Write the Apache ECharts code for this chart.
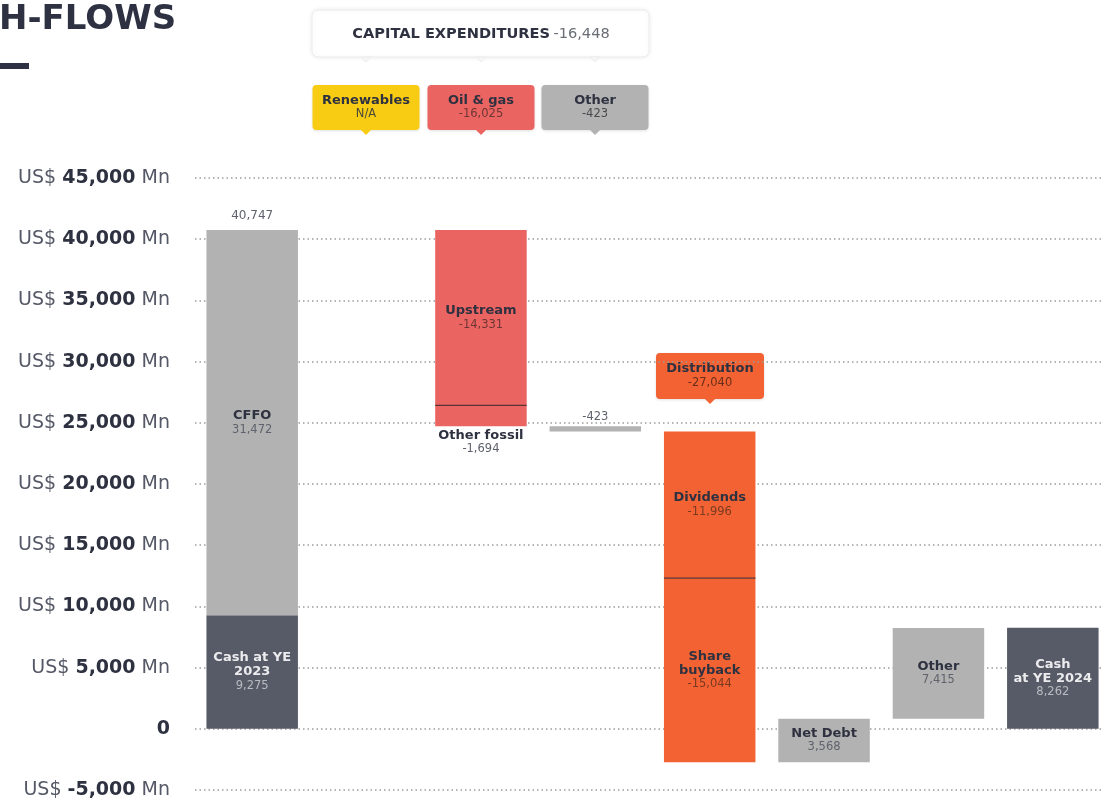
<!DOCTYPE html>
<html>
<head>
<meta charset="utf-8">
<script src="https://cdn.jsdelivr.net/npm/echarts@6/dist/echarts.min.js"></script>
<style>html,body{margin:0;padding:0;background:#fff;}#c{width:1103px;height:802px;}</style>
</head>
<body>
<div id="c"></div>
<script>
// ---- data ----
const categories = ['Cash at YE 2023 + CFFO', 'Renewables', 'Oil & gas', 'Other capex', 'Distribution', 'Net Debt', 'Other', 'Cash at YE 2024'];
const segNames = ['Cash at YE\n2023', 'CFFO', 'Upstream', 'Other fossil', 'Other', 'Dividends', 'Share\nbuyback', 'Net Debt', 'Other', 'Cash\nat YE 2024'];
const segValues = [9275, 31472, -14331, -1694, -423, -11996, -15044, 3568, 7415, 8262];
const segCategory = [0, 0, 2, 2, 3, 4, 4, 5, 6, 7];
const segIsTotal = [true, false, false, false, false, false, false, false, false, true];
const yTicks = [-5000, 0, 5000, 10000, 15000, 20000, 25000, 30000, 35000, 40000, 45000];
const capexTotal = -16448;
const capexParts = [['Renewables', 'N/A'], ['Oil & gas', -16025], ['Other', -423]];
const distributionTotal = -27040;

// ---- helpers ----
const fmt = v => (typeof v === 'number') ? v.toLocaleString('en-US') : v;
const FONT = 'DejaVu Sans';
const DARK = '#2e3140';
const SOFT = '#5f626c';
const colorOf = {
  'Cash at YE\n2023': '#575b67', 'CFFO': '#b2b2b2', 'Upstream': '#ea6461', 'Other fossil': '#ea6461',
  'Other': '#b2b2b2', 'Dividends': '#f26233', 'Share\nbuyback': '#f26233', 'Net Debt': '#b2b2b2',
  'Cash\nat YE 2024': '#575b67'
};
const valColorOf = {
  'Upstream': '#6e3634', 'Other fossil': SOFT, 'Dividends': '#7a3a22', 'Share\nbuyback': '#7a3a22'
};

// build waterfall segments
const segData = [];
let running = 0;
segValues.forEach((v, i) => {
  const start = segIsTotal[i] && i > 0 ? 0 : running;
  const end = start + v;
  running = end;
  segData.push([segCategory[i], Math.min(start, end), Math.max(start, end), i, start, end]);
});

function renderItem(params, api) {
  const cat = api.value(0), lo = api.value(1), hi = api.value(2), i = api.value(3);
  const start = api.value(4), end = api.value(5);
  const pHi = api.coord([cat, hi]);
  const pLo = api.coord([cat, lo]);
  const w = api.size([1, 0])[0] * 0.8;
  const x = pHi[0] - w / 2;
  const name = segNames[i];
  const isDarkBar = name.indexOf('Cash') === 0;
  const children = [{
    type: 'rect',
    shape: { x: x, y: pHi[1], width: w, height: Math.max(pLo[1] - pHi[1], 1) },
    style: { fill: colorOf[name] }
  }];
  if (i > 0 && segCategory[i - 1] === cat && colorOf[segNames[i - 1]] === colorOf[name]) {
    const py = api.coord([cat, start])[1];
    children.push({ type: 'line', shape: { x1: x, y1: py, x2: x + w, y2: py }, style: { stroke: '#5a3434', lineWidth: 1.2 } });
  }
  const rich = {
    b: { fontFamily: FONT, fontWeight: 'bold', fontSize: 13, lineHeight: 14, fill: isDarkBar ? '#ececef' : DARK, align: 'center' },
    v: { fontFamily: FONT, fontSize: 11.5, lineHeight: 14, fill: isDarkBar ? '#b9bbc2' : (valColorOf[name] || SOFT), align: 'center' }
  };
  const cx = pHi[0];
  const labelText = name.split('\n').map(s => '{b|' + s + '}').join('\n') + '\n{v|' + fmt(segValues[i]) + '}';
  if (cat === 3) {
    children.push({ type: 'text', style: { text: fmt(segValues[i]), x: cx, y: pHi[1] - 3, align: 'center', verticalAlign: 'bottom', fontFamily: FONT, fontSize: 11.5, fill: SOFT } });
  } else if (name === 'Other fossil') {
    children.push({ type: 'text', style: { text: labelText, rich: rich, x: cx, y: pLo[1] + 2, align: 'center', verticalAlign: 'top' } });
  } else {
    children.push({ type: 'text', style: { text: labelText, rich: rich, x: cx, y: (pHi[1] + pLo[1]) / 2, align: 'center', verticalAlign: 'middle' } });
  }
  if (cat === 0 && !segIsTotal[i]) {
    children.push({ type: 'text', style: { text: fmt(end), x: cx, y: pHi[1] - 8, align: 'center', verticalAlign: 'bottom', fontFamily: FONT, fontSize: 12, fill: SOFT } });
  }
  return { type: 'group', children: children };
}

function callout(cx, top, w, h, fill, title, value, valColor) {
  return {
    type: 'group',
    children: [
      { type: 'rect', shape: { x: cx - w / 2, y: top, width: w, height: h, r: 4 }, style: { fill: fill, shadowBlur: 3, shadowColor: 'rgba(0,0,0,0.12)', shadowOffsetY: 1 } },
      { type: 'polygon', shape: { points: [[cx - 5, top + h], [cx + 5, top + h], [cx, top + h + 5]] }, style: { fill: fill } },
      { type: 'text', style: { text: '{b|' + title + '}\n{v|' + value + '}', x: cx, y: top + h / 2, align: 'center', verticalAlign: 'middle',
        rich: { b: { fontFamily: FONT, fontWeight: 'bold', fontSize: 13, lineHeight: 14, fill: DARK, align: 'center' },
                v: { fontFamily: FONT, fontSize: 11.5, lineHeight: 14, fill: valColor, align: 'center' } } } }
    ]
  };
}

const chart = echarts.init(document.getElementById('c'), null, { renderer: 'canvas' });
const capexColors = ['#f8cc12', '#ea6461', '#b2b2b2'];
const capexCx = [366, 481, 595];
const graphics = [
  { type: 'text', style: { text: 'H-FLOWS', x: -1, y: 3, fontFamily: FONT, fontWeight: 'bold', fontSize: 34, fill: '#2d3142' } },
  { type: 'rect', shape: { x: 0, y: 63, width: 29, height: 6 }, style: { fill: '#2d3142' } },
  { type: 'rect', shape: { x: 312, y: 10, width: 337, height: 47, r: 6 }, style: { fill: '#fff', stroke: '#ececec', lineWidth: 1, shadowBlur: 5, shadowColor: 'rgba(0,0,0,0.08)' } },
  { type: 'text', style: { text: '{b|CAPITAL EXPENDITURES} {v|' + fmt(capexTotal) + '}', x: 481, y: 34, align: 'center', verticalAlign: 'middle',
      rich: { b: { fontFamily: FONT, fontWeight: 'bold', fontSize: 14.6, fill: DARK }, v: { fontFamily: FONT, fontSize: 14.6, fill: '#6a6d76' } } } }
];
capexCx.forEach(cx => graphics.push({ type: 'polygon', shape: { points: [[cx - 5, 57], [cx + 5, 57], [cx, 62]] }, style: { fill: '#f6f6f6', stroke: '#ececec' } }));
capexParts.forEach((p, k) => graphics.push(callout(capexCx[k], 85, 107, 45, capexColors[k], p[0], fmt(p[1]), k === 0 ? '#4a4a3a' : (k === 1 ? '#6e3634' : '#4a4a4e'))));
graphics.push(callout(710, 353, 108, 46, '#f26233', 'Distribution', fmt(distributionTotal), '#6a2e18'));

chart.setOption({
  animation: false,
  backgroundColor: '#ffffff',
  grid: { left: 195, width: 915, top: 178, bottom: 12, containLabel: false, outerBoundsMode: 'none' },
  xAxis: {
    type: 'category', data: categories,
    axisLine: { show: false }, axisTick: { show: false }, axisLabel: { show: false }, splitLine: { show: false }
  },
  yAxis: {
    type: 'value', min: yTicks[0], max: yTicks[yTicks.length - 1], interval: 5000,
    axisLine: { show: false }, axisTick: { show: false },
    splitLine: { show: true, lineStyle: { color: '#9c9c9c', type: [1.5, 3], width: 1.5 } },
    axisLabel: {
      margin: 25,
      formatter: v => v === 0 ? '{b|0}' : '{u|US$ }{b|' + fmt(v) + '}{u| Mn}',
      rich: {
        u: { fontFamily: FONT, fontSize: 19, color: '#555866' },
        b: { fontFamily: FONT, fontSize: 19, fontWeight: 'bold', color: DARK }
      }
    }
  },
  series: [{
    type: 'custom',
    renderItem: renderItem,
    encode: { x: 0, y: [1, 2] },
    data: segData,
    z: 3
  }],
  graphic: graphics
});
</script>
</body>
</html>
